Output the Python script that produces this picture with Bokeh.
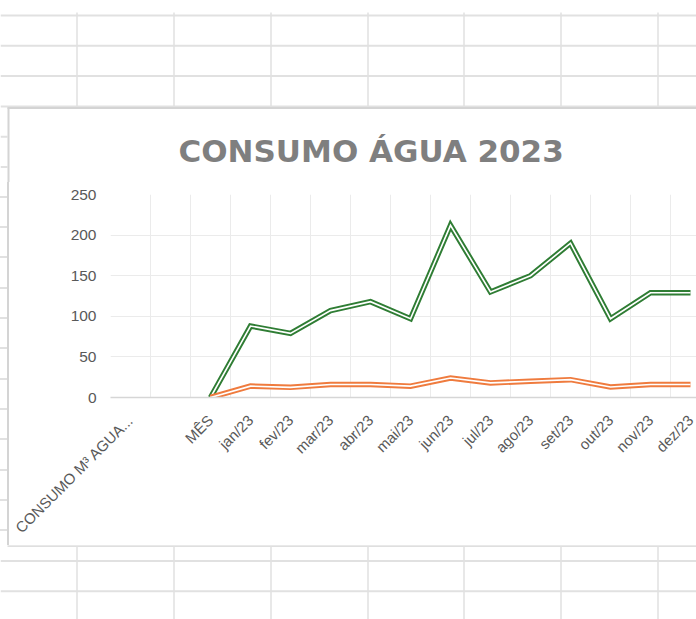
import math
from bokeh.plotting import figure
from bokeh.models import Range1d, FixedTicker, Div
from bokeh.core.properties import value
from bokeh.layouts import column, row
from bokeh.embed import file_html
from bokeh.resources import INLINE

# ---- data ----
categories = ["CONSUMO M³ AGUA...", " ", "MÊS", "jan/23", "fev/23", "mar/23", "abr/23",
              "mai/23", "jun/23", "jul/23", "ago/23", "set/23", "out/23", "nov/23", "dez/23"]
series_categories = ["MÊS", "jan/23", "fev/23", "mar/23", "abr/23", "mai/23", "jun/23",
                     "jul/23", "ago/23", "set/23", "out/23", "nov/23", "dez/23"]
green_values = [0, 88, 79, 107, 118, 97, 212, 130, 150, 190, 97, 129, 129]
orange_values = [0, 14, 12.5, 16, 16, 14, 24, 18, 20, 22, 13, 16, 16]
y_ticks = [0, 50, 100, 150, 200, 250]
title_text = "CONSUMO ÁGUA 2023"

# ---- spreadsheet background (decoration) ----
GRID = "#e1e1e1"
BORDER = "#d4d4d4"
W = 696
TOP_H = 182
col_x = [76.5, 173.5, 270.5, 367.5, 463.5, 560.5, 657.5]
row_y = [15 + 30.3 * k for k in range(20)]


def sheet_fig(w, h, y0):
    f = figure(width=w, height=h, x_range=Range1d(0, w), y_range=Range1d(y0 + h, y0),
               x_axis_type=None, y_axis_type=None, toolbar_location=None,
               output_backend="svg", min_border=0)
    f.outline_line_color = None
    f.grid.visible = False
    f.background_fill_color = "white"
    f.border_fill_color = "white"
    return f


# top strip (page y 0..TOP_H) incl. chart title
top = sheet_fig(W, TOP_H, 0)
ry = [y for y in row_y if y < 108]
top.segment(x0=[0] * len(ry), y0=ry, x1=[W] * len(ry), y1=ry, line_color=GRID, line_width=2)
top.segment(x0=col_x, y0=[12] * len(col_x), x1=col_x, y1=[106] * len(col_x),
            line_color=GRID, line_width=1.5)
ry = [y for y in row_y if 108 < y < TOP_H]
top.segment(x0=[0] * len(ry), y0=ry, x1=[7] * len(ry), y1=ry, line_color=GRID, line_width=2)
top.segment(x0=[7], y0=[107.5], x1=[W], y1=[107.5], line_color=BORDER, line_width=2)
top.segment(x0=[8], y0=[107], x1=[8], y1=[TOP_H], line_color=BORDER, line_width=2)
top.text(x=[178], y=[150], text=[title_text], text_font=value("DejaVu Sans"),
         text_font_size="31px", text_font_style="bold", text_color="#7f7f7f",
         text_align="left", text_baseline="middle")

# left strip: page x 0..9, y TOP_H..545 (css-drawn sheet lines + chart border)
period = 30.3
first = [y for y in row_y if y > TOP_H][0] - TOP_H
a = first - 1.0
b = first + 1.0
left = Div(text="", width=9, height=545 - TOP_H, margin=(0, 0, 0, 0), styles={
    "background-image":
        f"linear-gradient(to right, rgba(255,255,255,0) 7px, {BORDER} 7px, {BORDER} 9px), "
        f"repeating-linear-gradient(to bottom, #ffffff 0px, #ffffff {a:.1f}px, "
        f"{GRID} {a:.1f}px, {GRID} {b:.1f}px, #ffffff {b:.1f}px, #ffffff {max(b, period):.1f}px)",
    "background-color": "#ffffff",
})

# bottom strip: page y 545..619
bottom = sheet_fig(W, 74, 545)
ry = [y for y in row_y if y > 545]
bottom.segment(x0=[7], y0=[545.2], x1=[W], y1=[545.2], line_color=BORDER, line_width=2)
bottom.segment(x0=[0] * len(ry), y0=ry, x1=[W] * len(ry), y1=ry, line_color=GRID, line_width=2)
bottom.segment(x0=col_x, y0=[546] * len(col_x), x1=col_x, y1=[619] * len(col_x),
               line_color=GRID, line_width=1.5)

# ---- chart ----
n = len(categories)
p = figure(width=W - 9, height=545 - TOP_H, x_range=Range1d(-0.5, 14.15), y_range=Range1d(0, 250),
           toolbar_location=None, output_backend="svg",
           min_border_left=101, min_border_right=0, min_border_top=194 - TOP_H,
           min_border_bottom=147)
p.outline_line_color = None
p.background_fill_color = "white"
p.border_fill_color = "white"

xs = [categories.index(c) for c in series_categories]

for vals, col in ((green_values, "#2f7d34"), (orange_values, "#ef7b3e")):
    p.line(xs, vals, line_color=col, line_width=5.5, line_join="miter")
    p.line(xs, vals, line_color="white", line_width=1.6, line_join="miter")

p.xaxis.ticker = FixedTicker(ticks=list(range(n)))
p.xaxis.major_label_overrides = {i: c for i, c in enumerate(categories)}
p.xaxis.major_label_orientation = math.pi / 4
p.xaxis.major_label_text_font = "Liberation Sans"
p.xaxis.major_label_text_font_size = "15px"
p.xaxis.major_label_text_color = "#595959"
p.xaxis.major_label_standoff = 20
p.xaxis.major_tick_out = 0
p.xaxis.major_tick_in = 0
p.xaxis.major_tick_line_color = None
p.xaxis.minor_tick_line_color = None
p.xaxis.axis_line_color = "#d6d6d6"
p.xaxis.axis_line_width = 1.5

p.yaxis.ticker = FixedTicker(ticks=y_ticks)
p.yaxis.major_label_text_font = "Liberation Sans"
p.yaxis.major_label_text_font_size = "15.5px"
p.yaxis.major_label_text_color = "#595959"
p.yaxis.major_label_standoff = 14
p.yaxis.major_tick_out = 0
p.yaxis.major_tick_in = 0
p.yaxis.major_tick_line_color = None
p.yaxis.minor_tick_line_color = None
p.yaxis.axis_line_color = None

p.xgrid.ticker = FixedTicker(ticks=[i - 0.5 for i in range(n + 1)])
p.xgrid.grid_line_color = "#ebebeb"
p.ygrid.grid_line_color = "#ebebeb"

layout = column(top, row(left, p, spacing=0), bottom, spacing=0)

open("out.html", "w").write(file_html(layout, INLINE))
